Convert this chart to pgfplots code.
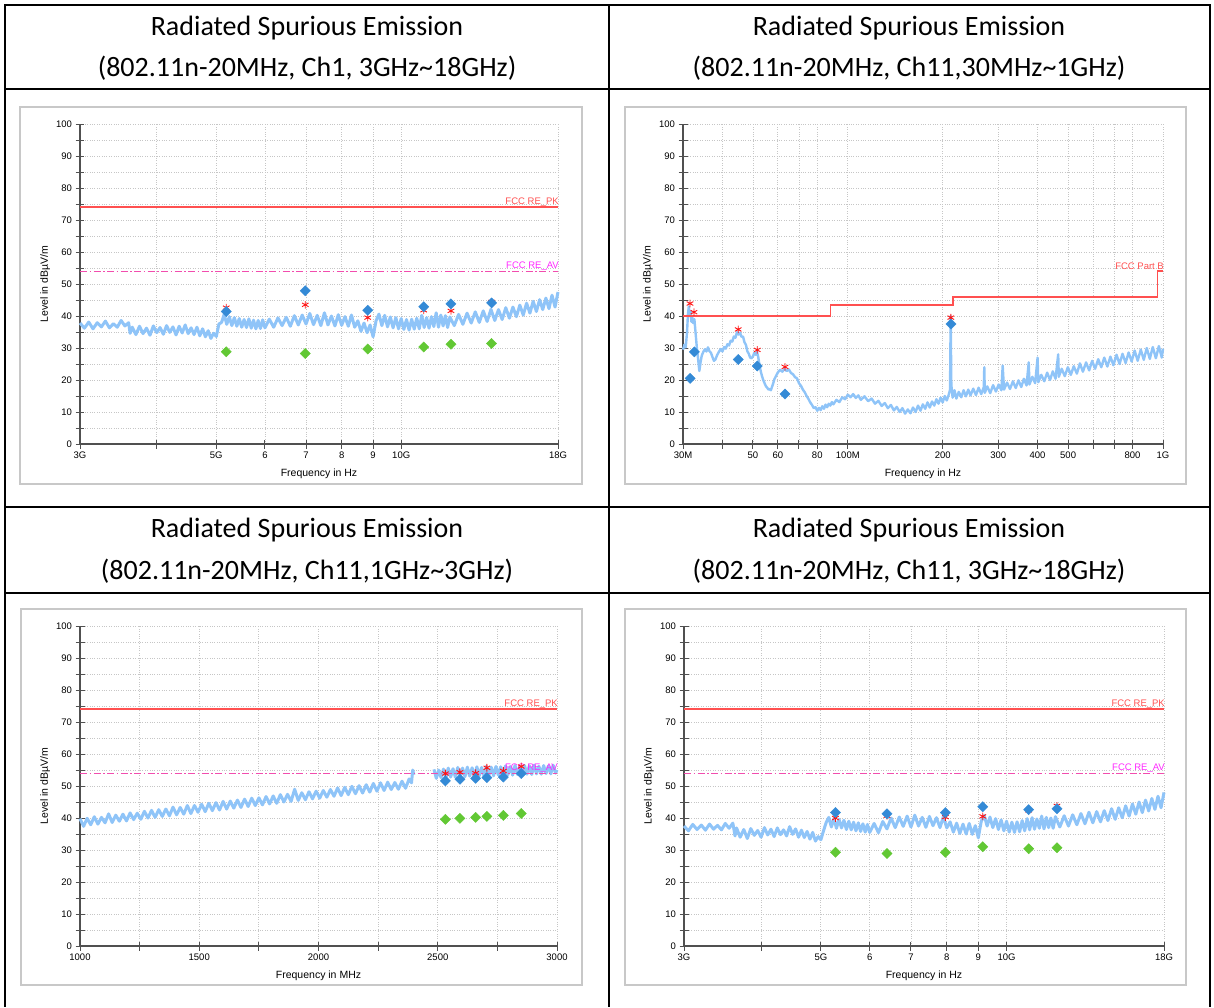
\documentclass[border=0pt]{standalone}
\usepackage{fontspec}
\setmainfont{Carlito}
\newfontfamily\chartfont{Liberation Sans}
\usepackage{pgfplots}
\pgfplotsset{compat=1.18}
\definecolor{trace}{RGB}{143,196,248}
\definecolor{limred}{RGB}{255,80,80}
\definecolor{limmag}{RGB}{255,40,255}
\definecolor{pkred}{RGB}{255,20,20}
\definecolor{qpblue}{RGB}{52,138,214}
\definecolor{avgreen}{RGB}{98,200,52}
\definecolor{axgray}{RGB}{80,80,80}
\definecolor{panel}{RGB}{200,200,200}
\tikzset{limlab/.style={font=\chartfont\fontsize{9.5}{11}\selectfont, inner sep=1pt, anchor=south east, xshift=2pt}}
\pgfplotsset{
 emc/.style={
  scale only axis, height=320pt,
  ymin=0, ymax=100,
  axis x line*=bottom, axis y line*=left,
  axis line style={axgray, line width=1.3pt},
  ytick={0,10,...,100},
  yticklabels={0,10,20,30,40,50,60,70,80,90,100},
  minor ytick={5,15,...,95},
  minor xtick={},
  tick align=center,
  major tick length=9pt, minor tick length=9pt,
  every tick/.style={axgray, line width=1pt},
  grid=both,
  major grid style={gray!45, dotted, line width=0.8pt},
  minor grid style={gray!45, dotted, line width=0.8pt},
  tick label style={font=\chartfont\fontsize{9.5}{11}\selectfont, text=black},
  label style={font=\chartfont\fontsize{10.5}{12}\selectfont},
  xlabel style={at={(axis description cs:0.5,-0.094)}, anchor=center},
  ylabel style={at={(axis description cs:-0.073,0.5)}, anchor=center},
  ylabel={Level in dBµV/m},
  clip=false,
 },
 tr/.style={color=trace, line width=3.0pt, no markers, line join=round},
 pk/.style={only marks, mark=asterisk, mark size=3.8pt, pkred, mark options={line width=0.9pt}},
 qp/.style={only marks, mark=square*, mark size=3.6pt, mark options={rotate=45, fill=qpblue, draw=qpblue}},
 av/.style={only marks, mark=square*, mark size=3.6pt, mark options={rotate=45, fill=avgreen, draw=avgreen}},
 limpk/.style={color=limred, line width=1.6pt, no markers},
 limav/.style={color=magenta!70!white, line width=1pt, no markers, dash pattern=on 7pt off 2.5pt on 1.5pt off 2.5pt},
}
\begin{document}
\begin{tikzpicture}
\useasboundingbox (0,0) rectangle (1214pt,-1007pt);
% table lines
\begin{scope}[line width=2pt]
\draw (4pt,-5pt) -- (1211pt,-5pt);
\draw (5pt,-89pt) -- (1210pt,-89pt);
\draw (5pt,-507pt) -- (1210pt,-507pt);
\draw (5pt,-593pt) -- (1210pt,-593pt);
\draw (5pt,-4pt) -- (5pt,-1007pt);
\draw (609pt,-4pt) -- (609pt,-1007pt);
\draw (1210pt,-4pt) -- (1210pt,-1007pt);
\end{scope}
% headers
\begin{scope}[font=\fontsize{28}{32}\selectfont]
\node at (307pt,-28pt) {Radiated Spurious Emission};
\node at (307pt,-68pt) {(802.11n-20MHz, Ch1, 3GHz\textasciitilde18GHz)};
\node at (909pt,-28pt) {Radiated Spurious Emission};
\node at (909pt,-68pt) {(802.11n-20MHz, Ch11,30MHz\textasciitilde1GHz)};
\node at (307pt,-530pt) {Radiated Spurious Emission};
\node at (307pt,-571pt) {(802.11n-20MHz, Ch11,1GHz\textasciitilde3GHz)};
\node at (909pt,-530pt) {Radiated Spurious Emission};
\node at (909pt,-571pt) {(802.11n-20MHz, Ch11, 3GHz\textasciitilde18GHz)};
\end{scope}
% panels
\begin{scope}[panel, line width=1.2pt]
\draw (20pt,-107pt) rectangle (582pt,-484pt);
\draw (625pt,-107pt) rectangle (1186pt,-484pt);
\draw (21pt,-609pt) rectangle (582pt,-985pt);
\draw (625pt,-609pt) rectangle (1186pt,-985pt);
\end{scope}

% ---------------- Chart 1 ----------------
\begin{axis}[emc, at={(80pt,-444pt)}, anchor=south west, width=478pt,
  xmode=log, xmin=3, xmax=18,
  xtick={3,4,5,6,7,8,9,10,18}, xticklabels={3G,,5G,6,7,8,9,10G,18G},
  xlabel={Frequency in Hz}]
\addplot[tr] table {
x y
3.00 37.8
3.05 36.2
3.10 38.1
3.15 36.0
3.20 37.9
3.25 36.6
3.30 38.4
3.35 36.3
3.40 37.6
3.45 36.5
3.50 38.6
3.55 36.9
3.60 37.9
3.62 34.6
3.65 36.5
3.70 34.2
3.75 36.8
3.80 34.5
3.85 36.2
3.90 34.0
3.95 36.9
4.00 34.8
4.05 36.4
4.10 34.3
4.15 37.0
4.20 34.9
4.25 36.6
4.30 34.1
4.35 36.8
4.40 34.7
4.45 37.2
4.50 34.5
4.55 36.3
4.60 34.2
4.65 36.5
4.70 33.8
4.75 36.0
4.80 33.5
4.85 35.4
4.90 33.0
4.95 34.6
5.00 33.6
5.05 37.5
5.10 38.0
5.15 40.5
5.20 37.4
5.25 39.8
5.30 37.0
5.35 39.5
5.40 36.8
5.45 39.2
5.50 36.5
5.55 38.9
5.60 36.4
5.65 39.1
5.70 36.2
5.75 38.7
5.80 36.0
5.85 38.6
5.90 36.1
5.95 38.8
6.00 36.3
6.1 39.0
6.2 36.5
6.3 39.4
6.4 37.0
6.5 39.6
6.6 36.8
6.7 40.1
6.8 37.2
6.9 40.3
7.0 37.5
7.1 40.8
7.2 37.3
7.3 40.2
7.4 37.0
7.5 41.0
7.6 37.2
7.7 40.0
7.8 36.9
7.9 40.4
8.0 37.1
8.1 39.8
8.2 36.8
8.3 40.3
8.4 36.5
8.5 38.5
8.6 35.2
8.7 37.8
8.8 34.8
8.9 37.2
9.0 33.5
9.05 36.0
9.1 38.5
9.2 40.6
9.3 37.0
9.4 40.2
9.5 36.6
9.6 39.7
9.7 36.3
9.8 39.5
9.9 36.0
10.0 39.2
10.1 35.8
10.2 38.9
10.3 35.6
10.4 39.0
10.5 35.9
10.6 39.3
10.7 36.0
10.8 40.2
10.9 36.4
11.0 39.5
11.1 36.2
11.2 39.8
11.3 36.7
11.4 41.0
11.5 36.5
11.6 40.3
11.7 36.9
11.8 40.1
11.9 36.4
12.0 39.7
12.2 37.0
12.4 40.5
12.6 37.4
12.8 40.9
13.0 37.8
13.2 41.3
13.4 38.0
13.6 41.6
13.8 38.3
14.0 42.1
14.2 38.6
14.4 42.0
14.6 38.9
14.8 42.6
15.0 39.3
15.2 42.8
15.4 39.8
15.6 43.4
15.8 40.3
16.0 44.0
16.2 40.9
16.4 44.6
16.6 41.4
16.8 45.1
17.0 42.0
17.2 45.6
17.4 42.3
17.6 46.5
17.8 42.8
18.0 47.5
};
\addplot[limpk] coordinates {(3,74) (18,74)};
\addplot[limav] coordinates {(3,54) (18,54)};
\node[limlab, text=limred] at (axis cs:18,74) {FCC RE\_PK};
\node[limlab, text=limmag] at (axis cs:18,54) {FCC RE\_AV};
\addplot[pk] coordinates {(5.19,42.6) (6.98,43.5) (8.82,39.5) (10.88,41.8) (12.05,41.6) (14.03,44.4)};
\addplot[qp] coordinates {(5.19,41.4) (6.98,47.9) (8.82,41.8) (10.88,42.9) (12.05,43.8) (14.03,44.1)};
\addplot[av] coordinates {(5.19,28.8) (6.98,28.3) (8.82,29.7) (10.88,30.3) (12.05,31.2) (14.03,31.4)};
\end{axis}

% ---------------- Chart 2 ----------------
\begin{axis}[emc, at={(683pt,-444pt)}, anchor=south west, width=480pt,
  xmode=log, xmin=30, xmax=1000,
  xtick={30,40,50,60,70,80,100,200,300,400,500,600,700,800,1000},
  xticklabels={30M,,50,60,,80,100M,200,300,400,500,,,800,1G},
  xlabel={Frequency in Hz}]
\addplot[tr, line width=2.4pt] table {
x y
30.0 29.5
30.3 31.0
30.6 30.2
30.9 35.0
31.1 40.5
31.3 43.0
31.5 40.0
31.7 41.5
31.9 38.2
32.1 39.5
32.3 37.8
32.6 39.0
32.9 34.5
33.2 30.0
33.5 26.5
33.8 22.8
34.1 25.5
34.4 27.6
34.8 28.8
35.2 29.6
35.6 28.9
36.0 30.2
36.4 29.0
36.8 28.5
37.2 27.2
37.6 26.0
38.0 26.4
38.5 27.8
39.0 28.8
39.5 29.7
40.0 28.9
40.5 30.3
41.0 29.8
41.5 31.2
42.0 30.8
42.5 32.3
43.0 32.0
43.5 33.6
44.0 33.2
44.5 35.0
45.0 34.2
45.5 34.8
46.0 33.5
46.5 33.6
47.0 31.8
47.5 31.0
48.0 29.0
48.5 28.2
49.0 27.0
49.5 26.8
50.0 27.4
50.5 28.5
51.0 27.9
51.5 29.0
52.0 27.0
52.5 24.5
53.0 22.5
53.5 21.0
54.0 19.8
54.5 18.9
55.0 18.0
55.5 17.6
56.0 17.0
56.5 17.2
57.0 16.8
57.5 17.9
58.0 19.0
58.5 20.3
59.0 21.0
60.0 22.4
61.0 23.2
62.0 22.6
63.0 23.5
64.0 22.8
65.0 23.3
66.0 22.2
67.0 21.8
68.0 20.9
69.0 20.5
70.0 19.0
71.0 18.2
72.0 17.0
73.0 16.2
74.0 15.0
75.0 14.1
76.0 13.0
77.0 12.2
78.0 11.2
79.0 11.5
80.0 10.4
81.0 11.3
82.0 10.6
83.0 11.8
84.0 11.0
85.0 12.3
86.0 11.5
87.0 12.6
88.0 12.0
89.0 13.1
90.0 12.4
92.0 13.8
94.0 13.1
96.0 14.6
98.0 14.0
100.0 15.4
102.0 14.6
104.0 15.6
106.0 14.4
108.0 15.2
110.0 13.8
113.0 14.9
116.0 13.4
119.0 14.2
122.0 12.6
125.0 13.5
128.0 11.9
131.0 12.8
134.0 11.2
137.0 12.2
140.0 10.5
143.0 11.6
146.0 10.0
149.0 11.2
152.0 9.5
155.0 10.8
158.0 9.6
161.0 11.4
164.0 10.0
167.0 12.0
170.0 10.4
173.0 12.4
176.0 11.0
179.0 13.0
182.0 11.4
185.0 13.3
188.0 12.0
191.0 14.0
194.0 12.6
197.0 14.5
200.0 13.0
203.0 15.0
206.0 13.6
209.0 15.4
211.0 17.0
212.0 40.0
213.0 18.5
215.0 14.5
218.0 16.8
221.0 14.2
225.0 16.3
229.0 14.6
233.0 16.8
237.0 14.9
241.0 17.0
245.0 15.2
250.0 17.3
255.0 15.3
260.0 17.6
265.0 15.6
270.0 17.8
271.0 24.0
272.0 16.0
277.0 18.0
283.0 15.9
289.0 18.4
295.0 16.4
301.0 18.6
307.0 16.8
310.0 24.5
313.0 17.0
320.0 19.2
327.0 17.2
334.0 19.6
341.0 17.5
348.0 19.9
355.0 17.8
362.0 20.4
369.0 18.3
375.0 25.5
377.0 18.6
385.0 21.0
393.0 19.0
400.0 27.0
402.0 19.3
411.0 21.6
420.0 19.6
429.0 22.3
438.0 20.0
447.0 22.7
456.0 20.4
465.0 28.0
467.0 21.0
477.0 23.5
488.0 21.2
499.0 24.0
510.0 21.6
521.0 24.3
533.0 22.0
545.0 25.2
557.0 22.6
570.0 25.5
583.0 23.0
596.0 26.0
609.0 23.5
623.0 26.5
637.0 24.0
651.0 27.0
666.0 24.2
681.0 27.3
696.0 24.6
712.0 27.9
728.0 25.0
744.0 28.2
761.0 25.3
778.0 28.6
795.0 25.8
813.0 29.2
831.0 26.0
850.0 29.5
869.0 26.3
888.0 30.0
908.0 26.6
928.0 30.3
949.0 26.8
970.0 30.6
991.0 27.0
1000.0 29.8
};
\addplot[limpk] coordinates {(30,40) (88,40) (88,43.5) (216,43.5) (216,46) (960,46) (960,54) (1000,54)};
\node[limlab, text=limred] at (axis cs:1000,54) {FCC Part B};
\addplot[pk] coordinates {(31.57,43.9) (32.5,41.2) (44.9,35.8) (51.6,29.4) (63.2,24.1) (212.2,39.5)};
\addplot[qp] coordinates {(31.6,20.5) (32.6,28.8) (44.9,26.4) (51.6,24.4) (63.2,15.6) (212.5,37.5)};
\end{axis}

% ---------------- Chart 3 ----------------
\begin{axis}[emc, at={(80pt,-946pt)}, anchor=south west, width=477pt,
  xmin=1000, xmax=3000,
  xtick={1000,1250,...,3000}, xticklabels={1000,,1500,,2000,,2500,,3000},
  xlabel={Frequency in MHz}]
\addplot[tr] table {
x y
1000 39.8
1015 37.4
1030 39.9
1045 37.9
1060 40.4
1075 38.1
1090 40.2
1105 38.5
1120 41.3
1135 38.6
1150 40.9
1165 39.0
1180 41.2
1195 39.1
1210 41.6
1225 39.5
1240 41.5
1255 39.6
1270 42.1
1285 40.0
1300 42.4
1315 40.2
1330 42.6
1345 40.5
1360 42.8
1375 40.7
1390 43.4
1405 41.0
1420 43.3
1435 41.2
1450 43.9
1465 41.4
1480 43.9
1495 41.8
1510 44.3
1525 42.0
1540 44.6
1555 42.3
1570 44.8
1585 42.5
1600 45.2
1615 42.8
1630 45.3
1645 43.1
1660 45.6
1675 43.3
1690 45.9
1705 43.6
1720 46.2
1735 43.9
1750 46.3
1765 44.1
1780 46.7
1795 44.4
1810 46.9
1825 44.6
1840 47.3
1855 45.0
1870 47.4
1885 45.2
1900 49.0
1915 45.5
1930 47.9
1945 45.7
1960 48.2
1975 46.0
1990 48.4
2005 46.2
2020 48.6
2035 46.5
2050 48.9
2065 46.8
2080 49.4
2095 47.0
2110 49.6
2125 47.3
2140 49.9
2155 47.6
2170 50.1
2185 47.8
2200 50.4
2215 48.1
2230 50.8
2245 48.4
2260 51.0
2275 48.6
2290 51.2
2305 48.9
2320 51.1
2335 49.0
2350 51.5
2365 49.3
2380 52.2
2390 51.0
2395 55.0
2400 53.5
};
\addplot[tr] table {
x y
2484 55.2
2494 52.4
2504 55.0
2514 52.6
2524 55.3
2534 52.5
2544 55.6
2554 52.8
2564 55.4
2574 52.7
2584 55.8
2594 53.0
2604 55.6
2614 52.9
2624 55.9
2634 53.1
2644 55.7
2654 53.0
2664 56.0
2674 53.2
2684 55.8
2694 53.1
2704 56.2
2714 53.3
2724 55.9
2734 53.2
2744 56.1
2754 53.4
2764 56.0
2774 53.3
2784 56.3
2794 53.5
2804 56.1
2814 53.4
2824 56.4
2834 53.6
2844 56.2
2854 53.5
2864 56.4
2874 53.7
2884 56.3
2894 53.6
2904 56.5
2914 53.8
2924 56.2
2934 53.7
2944 56.4
2954 53.9
2964 56.3
2974 53.8
2984 56.5
2994 54.0
3000 55.0
};
\addplot[limpk] coordinates {(1000,74) (3000,74)};
\addplot[limav] coordinates {(1000,54) (3000,54)};
\node[limlab, text=limred] at (axis cs:3000,74) {FCC RE\_PK};
\node[limlab, text=limmag] at (axis cs:3000,54) {FCC RE\_AV};
\addplot[pk] coordinates {(2532,53.9) (2593,54.3) (2659,54.0) (2706,55.7) (2775,54.7) (2850,56.1)};
\addplot[qp] coordinates {(2532,51.6) (2593,52.1) (2659,52.4) (2706,52.6) (2775,52.8) (2850,53.9)};
\addplot[av] coordinates {(2532,39.6) (2593,39.9) (2659,40.2) (2706,40.5) (2775,40.8) (2850,41.4)};
\end{axis}

% ---------------- Chart 4 ----------------
\begin{axis}[emc, at={(684pt,-946pt)}, anchor=south west, width=480pt,
  xmode=log, xmin=3, xmax=18,
  xtick={3,4,5,6,7,8,9,10,18}, xticklabels={3G,,5G,6,7,8,9,10G,18G},
  xlabel={Frequency in Hz}]
\addplot[tr] table {
x y
3.00 37.5
3.05 36.0
3.10 38.0
3.15 36.4
3.20 37.8
3.25 36.2
3.30 38.1
3.35 36.5
3.40 37.7
3.45 36.3
3.50 38.3
3.55 36.8
3.60 38.4
3.63 34.4
3.65 36.9
3.70 34.0
3.75 36.4
3.80 33.6
3.85 36.7
3.90 34.6
3.95 36.1
4.00 34.0
4.05 37.0
4.10 34.7
4.15 36.5
4.20 34.2
4.25 36.9
4.30 34.8
4.35 36.3
4.40 34.4
4.45 37.3
4.50 34.9
4.55 36.6
4.60 34.0
4.65 36.2
4.70 33.9
4.75 35.8
4.80 33.4
4.85 35.5
4.90 32.8
4.95 34.2
5.00 33.2
5.05 36.0
5.10 38.6
5.15 40.2
5.20 37.2
5.25 39.9
5.30 36.8
5.35 39.6
5.40 36.9
5.45 39.3
5.50 36.4
5.55 39.0
5.60 36.3
5.65 38.7
5.70 36.0
5.75 38.5
5.80 35.8
5.85 38.2
5.90 35.6
5.95 38.0
6.00 35.5
6.1 38.3
6.2 35.4
6.3 38.9
6.4 36.6
6.5 40.0
6.6 37.0
6.7 40.3
6.8 37.4
6.9 40.6
7.0 37.2
7.1 40.9
7.2 37.5
7.3 40.2
7.4 37.1
7.5 40.5
7.6 37.6
7.7 40.1
7.8 37.0
7.9 40.4
8.0 36.9
8.1 38.8
8.2 35.6
8.3 38.4
8.4 35.2
8.5 38.1
8.6 35.0
8.7 38.3
8.8 34.9
8.9 37.6
9.0 33.8
9.05 36.5
9.1 39.0
9.2 40.8
9.3 37.5
9.4 40.3
9.5 37.0
9.6 39.8
9.7 36.4
9.8 39.4
9.9 36.0
10.0 39.0
10.1 35.6
10.2 38.7
10.3 35.5
10.4 38.8
10.5 35.7
10.6 39.2
10.7 36.0
10.8 39.8
10.9 36.3
11.0 40.1
11.1 36.5
11.2 39.7
11.3 36.8
11.4 40.6
11.5 36.6
11.6 40.2
11.7 37.0
11.8 40.0
11.9 36.8
12.0 40.4
12.2 37.2
12.4 40.7
12.6 37.5
12.8 41.0
13.0 37.9
13.2 41.4
13.4 38.2
13.6 41.8
13.8 38.5
14.0 42.0
14.2 38.8
14.4 42.3
14.6 39.2
14.8 42.9
15.0 39.6
15.2 43.2
15.4 40.1
15.6 43.8
15.8 40.6
16.0 44.4
16.2 41.2
16.4 45.0
16.6 41.7
16.8 45.6
17.0 42.2
17.2 46.1
17.4 42.7
17.6 46.8
17.8 43.2
18.0 48.0
};
\addplot[limpk] coordinates {(3,74) (18,74)};
\addplot[limav] coordinates {(3,54) (18,54)};
\node[limlab, text=limred] at (axis cs:18,74) {FCC RE\_PK};
\node[limlab, text=limmag] at (axis cs:18,54) {FCC RE\_AV};
\addplot[pk] coordinates {(5.28,40.0) (6.40,40.7) (7.96,40.3) (9.15,40.5) (10.86,42.4) (12.07,43.8)};
\addplot[qp] coordinates {(5.28,41.7) (6.40,41.3) (7.96,41.7) (9.15,43.5) (10.86,42.6) (12.07,42.9)};
\addplot[av] coordinates {(5.28,29.3) (6.40,28.9) (7.96,29.3) (9.15,31.0) (10.86,30.4) (12.07,30.7)};
\end{axis}
\end{tikzpicture}
\end{document}
